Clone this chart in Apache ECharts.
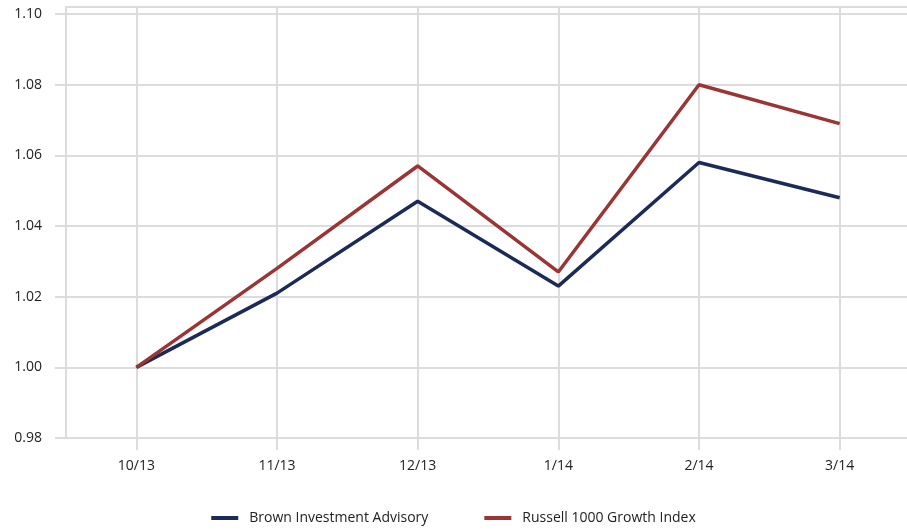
<!DOCTYPE html>
<html><head><meta charset="utf-8">
<script src="https://cdn.jsdelivr.net/npm/echarts@6/dist/echarts.min.js"></script>
<style>html,body{margin:0;padding:0;background:#fff}#c{width:907px;height:532px}</style>
</head><body><div id="c"></div>
<script>
const categories = ['10/13','11/13','12/13','1/14','2/14','3/14'];
const brown = [1.000, 1.021, 1.047, 1.023, 1.058, 1.048];
const russell = [1.000, 1.028, 1.057, 1.027, 1.080, 1.069];
const yTicks = [0.98, 1.00, 1.02, 1.04, 1.06, 1.08, 1.10];
const seriesNames = ['Brown Investment Advisory', 'Russell 1000 Growth Index'];

const font = '"Open Sans", "Liberation Sans", sans-serif';
const gridLine = {color: '#dcdcdc', width: 2};
const chart = echarts.init(document.getElementById('c'), null, {renderer: 'canvas'});
chart.setOption({
  animation: false,
  grid: {left: 66, width: 844, top: 7, bottom: 94, containLabel: false, outerBoundsMode: 'none'},
  legend: {
    bottom: 2, left: 'center',
    itemWidth: 27, itemHeight: 4, itemGap: 56, icon: 'rect',
    textStyle: {fontFamily: font, fontSize: 14, color: '#222', padding: [0,0,0,6]},
    data: seriesNames
  },
  xAxis: [{
    type: 'category', data: categories, boundaryGap: true,
    axisLine: {show: true, lineStyle: gridLine},
    axisTick: {show: true, alignWithLabel: true, length: 12, lineStyle: gridLine},
    splitLine: {show: true, alignWithLabel: true, lineStyle: gridLine},
    axisLabel: {fontFamily: font, fontSize: 14, color: '#222', margin: 21}
  }, {
    type: 'category', data: categories, position: 'top', boundaryGap: true,
    axisLine: {show: true, lineStyle: gridLine},
    axisTick: {show: false}, axisLabel: {show: false}, splitLine: {show: false}
  }],
  yAxis: {
    type: 'value', min: 0.98, max: 1.102, interval: 0.02,
    axisLine: {show: true, lineStyle: gridLine},
    axisTick: {show: true, length: 11, customValues: yTicks, lineStyle: gridLine},
    splitLine: {show: true, lineStyle: gridLine},
    axisLabel: {fontFamily: font, fontSize: 14, color: '#222', margin: 24,
      customValues: yTicks, formatter: v => v.toFixed(2)}
  },
  series: [
    {name: seriesNames[0], type: 'line', data: brown, symbol: 'none',
     lineStyle: {color: '#1c2a5a', width: 3.5}, itemStyle: {color: '#1c2a5a'}},
    {name: seriesNames[1], type: 'line', data: russell, symbol: 'none',
     lineStyle: {color: '#9b3535', width: 3.5}, itemStyle: {color: '#9b3535'}}
  ]
});
</script></body></html>
